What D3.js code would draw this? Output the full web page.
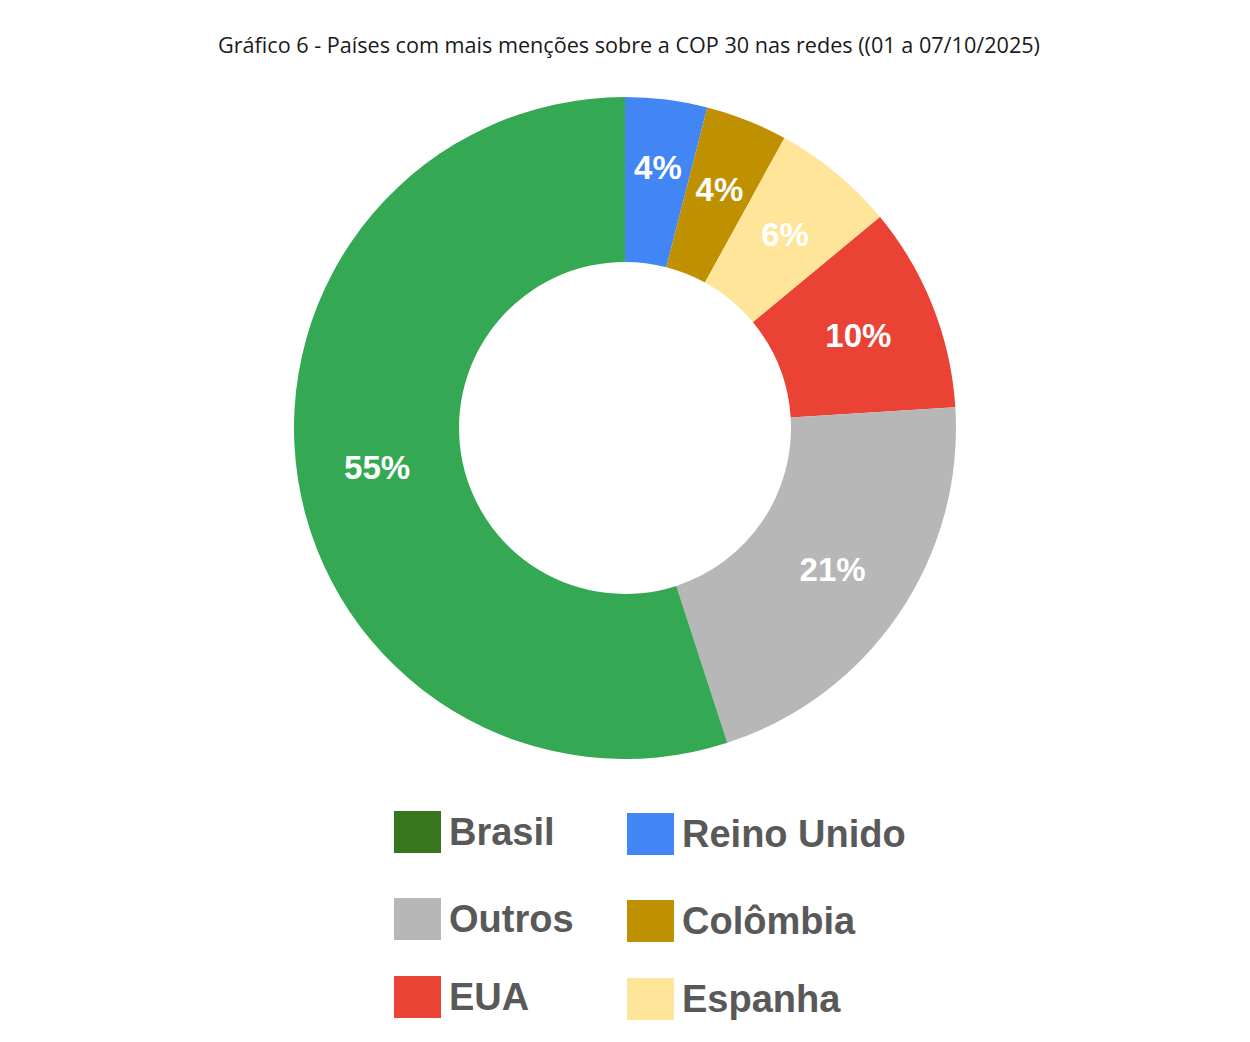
<!DOCTYPE html>
<html>
<head>
<meta charset="utf-8">
<script src="https://cdn.jsdelivr.net/npm/d3@7"></script>
<style>
  html, body { margin: 0; padding: 0; background: #ffffff; }
  svg { display: block; }
</style>
</head>
<body>
<svg id="chart" width="1250" height="1042"></svg>
<script>
// Share of mentions of COP 30 per country (clockwise from 12 o'clock)
const countries = ["Reino Unido", "Colômbia", "Espanha", "EUA", "Outros", "Brasil"];
const shares = [4, 4, 6, 10, 21, 55];
const sliceColors = ["#4285f4", "#bf9000", "#ffe599", "#ea4335", "#b7b7b7", "#34a853"];

// Legend order (two columns, three rows)
const legendItems = ["Brasil", "Reino Unido", "Outros", "Colômbia", "EUA", "Espanha"];
const legendColors = ["#38761d", "#4285f4", "#b7b7b7", "#bf9000", "#ea4335", "#ffe599"];

const titleText = "Gráfico 6 - Países com mais menções sobre a COP 30 nas redes ((01 a 07/10/2025)";

const svg = d3.select("#chart");

// Title, fitted to its line width
const title = svg.append("text")
  .attr("x", 629)
  .attr("y", 53)
  .attr("text-anchor", "middle")
  .attr("fill", "#1a1a1a")
  .style("font-family", "'Open Sans', 'Noto Sans', sans-serif")
  .style("font-weight", "500")
  .style("font-size", "20px")
  .text(titleText);
const titleWidth = title.node().getComputedTextLength();
title.style("font-size", (20 * 822 / titleWidth).toFixed(2) + "px");

// Donut
const cx = 625, cy = 428;
const outerR = 331, innerR = 166, labelR = 251;

const data = countries.map((c, i) => ({ country: c, value: shares[i], color: sliceColors[i] }));
const total = d3.sum(shares);

const pie = d3.pie().sort(null).value(d => d.value);
const arc = d3.arc().innerRadius(innerR).outerRadius(outerR);
const arcs = pie(data);

const g = svg.append("g").attr("transform", `translate(${cx},${cy})`);

g.selectAll("path.slice")
  .data(arcs)
  .join("path")
  .attr("class", "slice")
  .attr("d", arc)
  .attr("fill", d => d.data.color);

// Percent labels; thin slices near the top get their label nudged outward
g.selectAll("text.pct")
  .data(arcs)
  .join("text")
  .attr("class", "pct")
  .attr("transform", d => {
    const a = (d.startAngle + d.endAngle) / 2;
    const frac = d.data.value / total;
    const r = frac < 0.05 ? labelR + 10 + (0.2 - a) * 25 : labelR;
    return `translate(${Math.sin(a) * r},${-Math.cos(a) * r})`;
  })
  .attr("text-anchor", "middle")
  .attr("dy", "0.36em")
  .attr("fill", "#ffffff")
  .style("font-family", "'Liberation Sans', Arial, sans-serif")
  .style("font-weight", "bold")
  .style("font-size", "33px")
  .text(d => Math.round(d.data.value / total * 100) + "%");

// Legend
const colX = [394, 627];
const rowY = [811, 898, 976];
const legend = svg.append("g");
legendItems.forEach((name, i) => {
  const col = i % 2, row = Math.floor(i / 2);
  const x = colX[col], y = rowY[row] + (col === 1 ? 2 : 0);
  legend.append("rect")
    .attr("x", x).attr("y", y)
    .attr("width", 47).attr("height", 42)
    .attr("fill", legendColors[i]);
  legend.append("text")
    .attr("x", x + 55)
    .attr("y", y + 34)
    .attr("fill", "#595959")
    .style("font-family", "'Liberation Sans', Arial, sans-serif")
    .style("font-weight", "bold")
    .style("font-size", "38px")
    .text(name);
});
</script>
</body>
</html>
